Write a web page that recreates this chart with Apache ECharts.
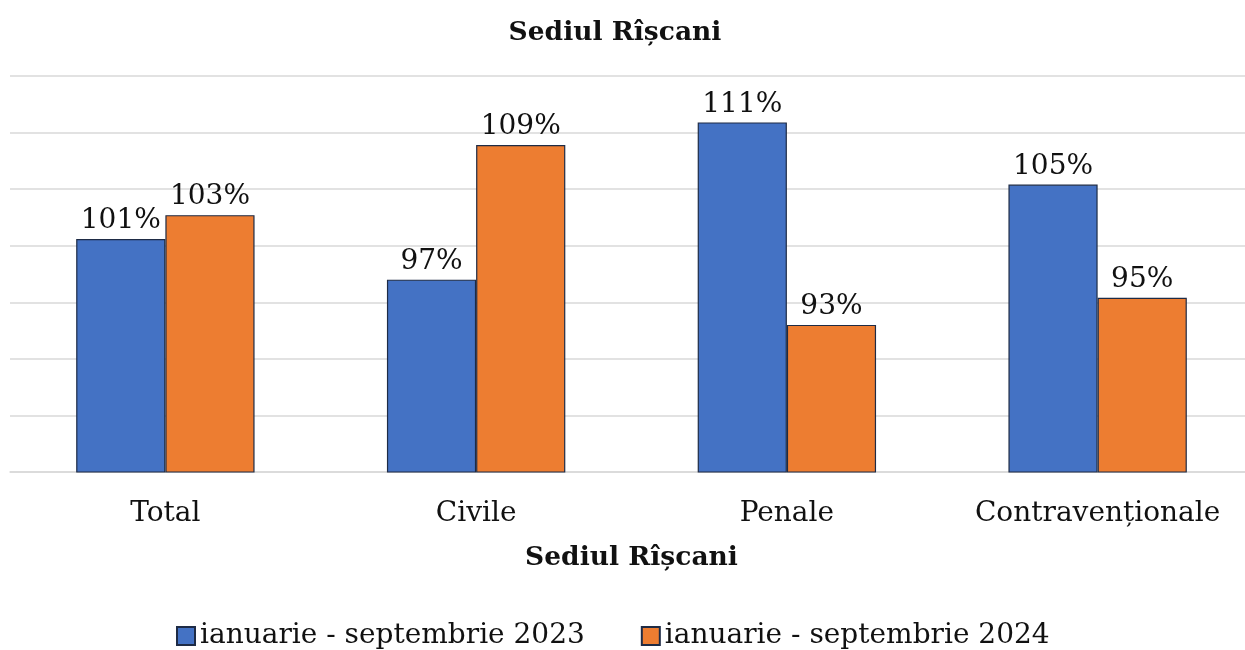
<!DOCTYPE html>
<html>
<head>
<meta charset="utf-8">
<script src="https://cdn.jsdelivr.net/npm/echarts@6/dist/echarts.min.js"></script>
<style>html,body{margin:0;padding:0;background:#fff;overflow:hidden}#c{width:1253px;height:650px}</style>
</head>
<body>
<div id="c"></div>
<script>
const categories = ['Total', 'Civile', 'Penale', 'Contravenționale'];
const seriesNames = ['ianuarie - septembrie 2023', 'ianuarie - septembrie 2024'];
const values2023 = [100.6, 97.0, 110.9, 105.4];
const values2024 = [102.7, 108.9, 93.0, 95.4];
const titleText = 'Sediul Rîșcani';
const axisMin = 80, axisMax = 115, axisStep = 5;

const serif = '"DejaVu Serif", "Liberation Serif", serif';
const chart = echarts.init(document.getElementById('c'), null, {renderer: 'canvas'});
const labelCfg = {
  show: true, position: 'top', distance: 4,
  fontFamily: serif, fontSize: 28, color: '#111',
  formatter: p => Math.round(p.value) + '%'
};
chart.setOption({
  animation: false,
  backgroundColor: '#fff',
  title: {
    text: titleText, left: 610, top: 15, textAlign: 'center',
    textStyle: {fontFamily: serif, fontWeight: 'bold', fontSize: 26.5, color: '#111'}
  },
  legend: {
    top: 617, left: 171, itemGap: 56, itemWidth: 18, itemHeight: 18,
    icon: 'rect',
    textStyle: {fontFamily: serif, fontSize: 28, color: '#111'},
    data: seriesNames
  },
  grid: {left: 10, right: 0, top: 76, bottom: 178, containLabel: false},
  xAxis: {
    type: 'category', data: categories,
    axisTick: {show: false},
    axisLine: {lineStyle: {color: '#d9d9d9', width: 1.5}},
    axisLabel: {fontFamily: serif, fontSize: 28, color: '#111', margin: 28, interval: 0},
    name: titleText, nameLocation: 'middle', nameGap: 73,
    nameTextStyle: {fontFamily: serif, fontWeight: 'bold', fontSize: 26.5, color: '#111'}
  },
  yAxis: {
    type: 'value', min: axisMin, max: axisMax, interval: axisStep,
    axisLabel: {show: false}, axisLine: {show: false}, axisTick: {show: false},
    splitLine: {lineStyle: {color: '#d9d9d9', width: 1.5}}
  },
  series: [
    {name: seriesNames[0], type: 'bar', data: values2023, barGap: '0%', barCategoryGap: '42.6%',
     itemStyle: {color: '#4472C4', borderColor: '#1e2b45', borderWidth: 1.2}, label: labelCfg},
    {name: seriesNames[1], type: 'bar', data: values2024,
     itemStyle: {color: '#ED7D31', borderColor: '#1e2b45', borderWidth: 1.2}, label: labelCfg}
  ]
});
</script>
</body>
</html>
